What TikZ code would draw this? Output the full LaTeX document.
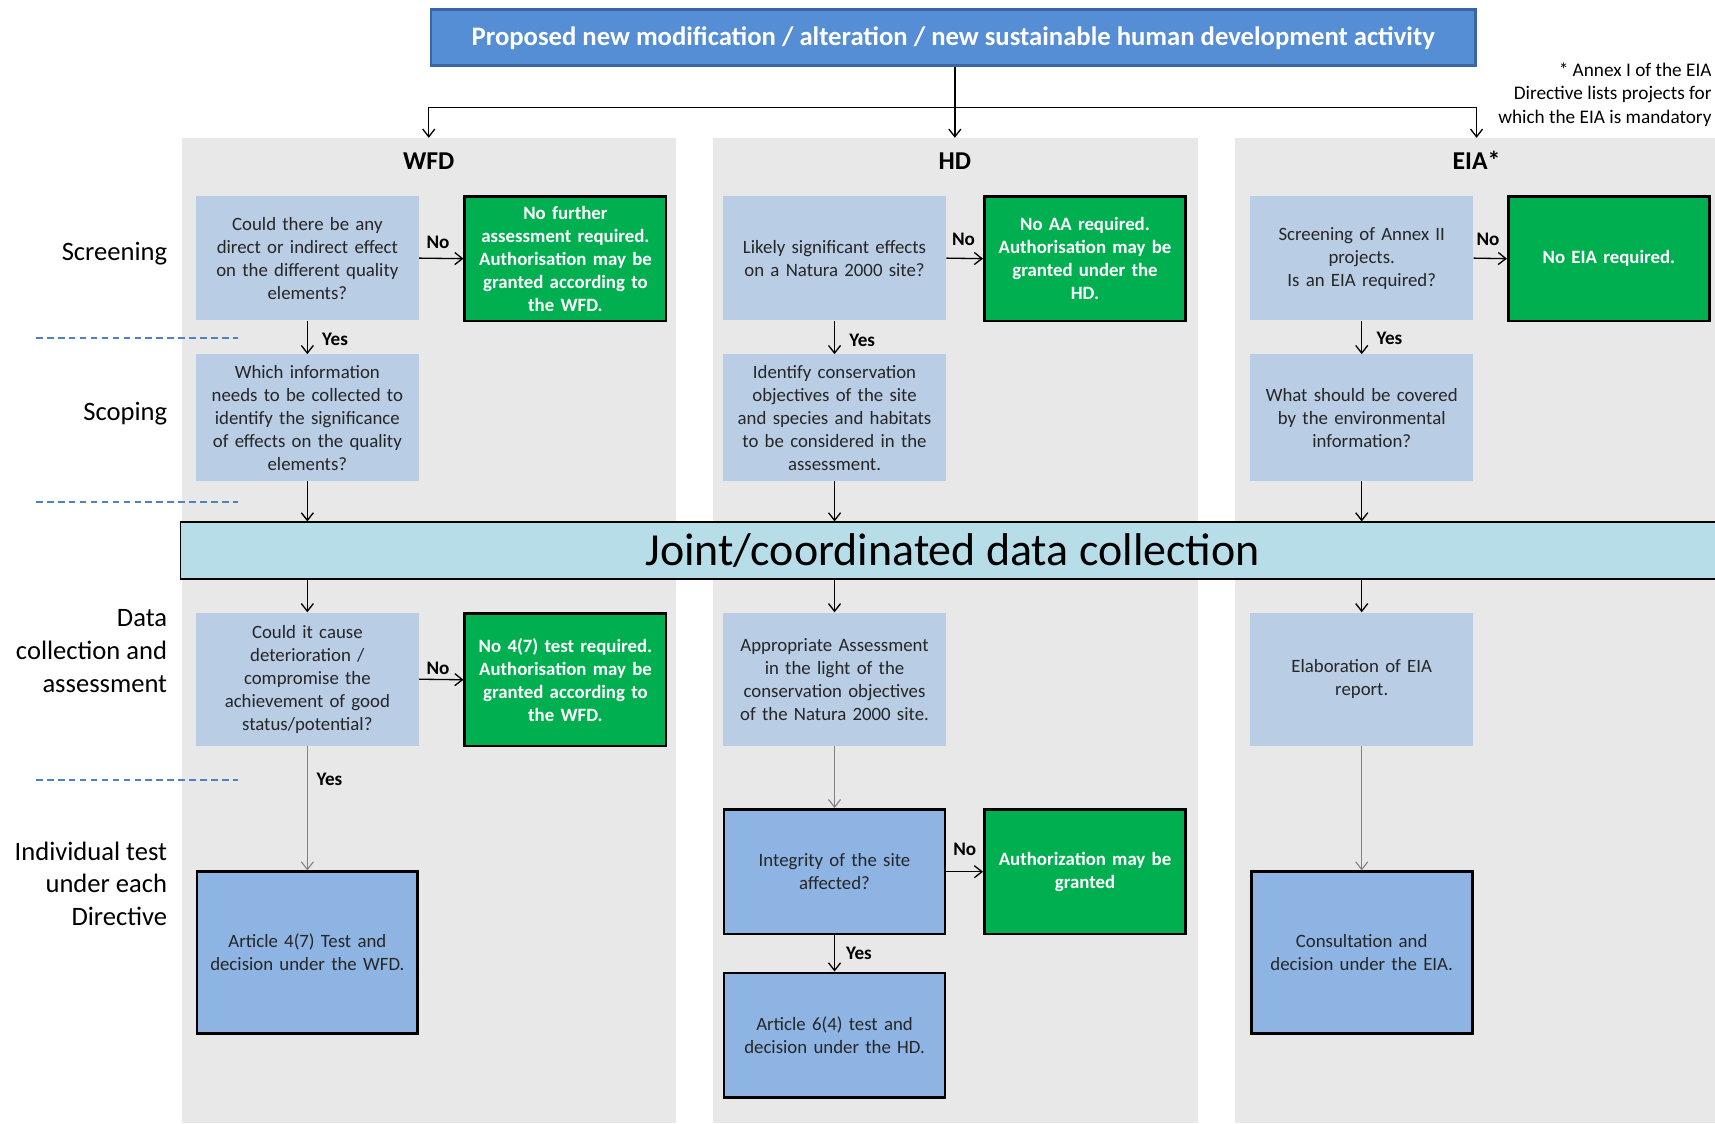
\documentclass[tikz,border=0pt]{standalone}
\usepackage{fontspec}
\setmainfont{Carlito}
\usetikzlibrary{arrows.meta,positioning}
\definecolor{topblue}{HTML}{558ED5}
\definecolor{topedge}{HTML}{3A67A3}
\definecolor{paleblue}{HTML}{B9CDE5}
\definecolor{midblue}{HTML}{8EB4E3}
\definecolor{okgreen}{HTML}{00B050}
\definecolor{colgrey}{HTML}{E8E8E8}
\definecolor{jointblue}{HTML}{B7DEE8}
\definecolor{dashblue}{HTML}{4F81BD}
\newcommand{\boxfont}{\fontsize{17.2}{21}\selectfont}
\newcommand{\sidefont}{\fontsize{24.3}{30}\selectfont}

\begin{document}
\begin{tikzpicture}[x=1pt, y=-1pt,
  arr/.style={-{Straight Barb[length=7pt,width=11pt]}, line width=1.2pt},
  greyarr/.style={arr, draw=black!50, line width=1pt},
  qbox/.style={fill=paleblue, text=black!85, align=center, text width=198pt,
    inner sep=3pt, minimum height=114pt, font=\boxfont},
  okbox/.style={fill=okgreen, draw=black, line width=2.5pt, text=white, align=center,
    text width=178pt, inner sep=3pt, minimum height=114pt, font=\boxfont\bfseries},
  testbox/.style={fill=midblue, draw=black, line width=2.5pt, text=black!85, align=center,
    text width=196pt, inner sep=3pt, minimum height=114pt, font=\boxfont},
  lbl/.style={font=\fontsize{17.5}{20}\selectfont\bfseries, inner sep=2pt},
  side/.style={anchor=east, align=right, inner sep=0pt, font=\sidefont},
  head/.style={font=\fontsize{23.5}{27}\selectfont\bfseries},
  phase/.style={dashblue, line width=1.2pt, dash pattern=on 6pt off 4pt}
]
\useasboundingbox (0,0) rectangle (1568,1027);

% Column backgrounds
\fill[colgrey] (166,126) rectangle (618,1027);
\fill[colgrey] (652,126) rectangle (1095,1027);
\fill[colgrey] (1129,126) rectangle (1568,1027);

% Proposed activity
\node[fill=topblue, draw=topedge, line width=2.5pt, text=white, minimum width=955pt,
  minimum height=51pt, font=\fontsize{24.4}{28}\selectfont\bfseries] (top) at (871.5,34.5)
  {Proposed new modification / alteration / new sustainable human development activity};
\node[anchor=east, align=right, inner sep=0pt, font=\fontsize{17.6}{21.5}\selectfont] (note) at (1565,86.5)
  {* Annex I of the EIA\\Directive lists projects for\\which the EIA is mandatory};

% Directive headers
\coordinate (wfdtop) at (392,126);
\coordinate (hdtop) at (873,126);
\coordinate (eiatop) at (1350,126);
\coordinate (fork) at (873,98);
\node[head] (wfd) at (392,147) {WFD};
\node[head] (hd) at (873,147) {HD};
\node[head] (eia) at (1350,147) {EIA*};
\draw[arr] (top.south -| fork) -- (hdtop);
\draw[arr] (fork) -| (wfdtop);
\draw[arr] (fork) -| (eiatop);

% Phase labels
\node[side] (screening) at (153,232) {Screening};
\node[side] (scoping) at (153,378) {Scoping};
\node[side] (datacoll) at (153,595) {Data\\collection and\\assessment};
\node[side] (indiv) at (153,808) {Individual test\\under each\\Directive};
\draw[phase] (33,309) -- (218,309);
\draw[phase] (33,459) -- (218,459);
\draw[phase] (33,713) -- (218,713);

% Joint data collection
\node[fill=jointblue, draw=black, line width=1.5pt, minimum width=1412pt, minimum height=52pt,
  font=\fontsize{42}{46}\selectfont] (joint) at (871,503.5) {Joint/coordinated data collection};

% WFD column
\node[qbox] (wfdscr) at (281,236) {Could there be any\\direct or indirect effect\\on the different quality\\elements?};
\node[okbox] (wfdno) at (517,236.5) {No further\\assessment required.\\Authorisation may be\\granted according to\\the WFD.};
\node[qbox, minimum height=116pt] (wfdscp) at (281,382) {Which information\\needs to be collected to\\identify the significance\\of effects on the quality\\elements?};
\node[qbox, minimum height=122pt] (wfddat) at (281,621) {Could it cause\\deterioration /\\compromise the\\achievement of good\\status/potential?};
\node[okbox, minimum height=121pt] (wfdno2) at (517,621.5) {No 4(7) test required.\\Authorisation may be\\granted according to\\the WFD.};
\node[testbox, minimum height=148pt] (wfdart) at (281,871) {Article 4(7) Test and\\decision under the WFD.};
\draw[arr] (wfdscr.east) -- node[lbl, above, xshift=-3pt, yshift=6pt] (wfdnol) {No} (wfdno.west);
\draw[arr] (wfdscr.south) -- node[lbl, right, xshift=11pt, yshift=-2pt] (wfdyesl) {Yes} (wfdscp.north);
\draw[arr] (wfdscp.south) -- (wfdscp.south |- joint.north);
\draw[arr] (wfddat.north |- joint.south) -- (wfddat.north);
\draw[arr] (wfddat.east) -- node[lbl, above, xshift=-3pt, yshift=2pt] (wfdno2l) {No} (wfdno2.west);
\draw[greyarr] (wfddat.south) -- node[lbl, pos=0.27, right, xshift=6pt] (wfdyes2l) {Yes} (wfdart.north);

% HD column
\node[qbox] (hdscr) at (763,236) {Likely significant effects\\on a Natura 2000 site?};
\node[okbox] (hdno) at (992,236.5) {No AA required.\\Authorisation may be\\granted under the\\HD.};
\node[qbox, minimum height=116pt] (hdscp) at (763,382) {Identify conservation\\objectives of the site\\and species and habitats\\to be considered in the\\assessment.};
\node[qbox, minimum height=122pt] (hddat) at (763,621) {Appropriate Assessment\\in the light of the\\conservation objectives\\of the Natura 2000 site.};
\node[testbox] (hdint) at (763,797) {Integrity of the site\\affected?};
\node[okbox] (hdauth) at (992,797) {Authorization may be\\granted};
\node[testbox] (hdart) at (763,946.5) {Article 6(4) test and\\decision under the HD.};
\draw[arr] (hdscr.east) -- node[lbl, above, xshift=-1pt, yshift=9pt] (hdnol) {No} (hdno.west);
\draw[arr] (hdscr.south) -- node[lbl, right, xshift=11pt, yshift=-3pt] (hdyesl) {Yes} (hdscp.north);
\draw[arr] (hdscp.south) -- (hdscp.south |- joint.north);
\draw[arr] (hddat.north |- joint.south) -- (hddat.north);
\draw[greyarr] (hddat.south) -- (hdint.north);
\draw[arr] (hdint.east) -- node[lbl, above, yshift=12pt] (hdno2l) {No} (hdauth.west);
\draw[arr] (hdint.south) -- node[lbl, right, xshift=8pt] (hdyes2l) {Yes} (hdart.north);

% EIA column
\node[qbox] (eiascr) at (1245,236) {Screening of Annex II\\projects.\\Is an EIA required?};
\node[okbox] (eiano) at (1471,236.5) {No EIA required.};
\node[qbox, minimum height=116pt] (eiascp) at (1245,382) {What should be covered\\by the environmental\\information?};
\node[qbox, minimum height=122pt] (eiadat) at (1245,621) {Elaboration of EIA\\report.};
\node[testbox, minimum height=148pt] (eiacon) at (1245,871) {Consultation and\\decision under the EIA.};
\draw[arr] (eiascr.east) -- node[lbl, above, xshift=-2pt, yshift=9pt] (eianol) {No} (eiano.west);
\draw[arr] (eiascr.south) -- node[lbl, right, xshift=11pt, yshift=-1pt] (eiayesl) {Yes} (eiascp.north);
\draw[arr] (eiascp.south) -- (eiascp.south |- joint.north);
\draw[arr] (eiadat.north |- joint.south) -- (eiadat.north);
\draw[greyarr] (eiadat.south) -- (eiacon.north);
\end{tikzpicture}
\end{document}
